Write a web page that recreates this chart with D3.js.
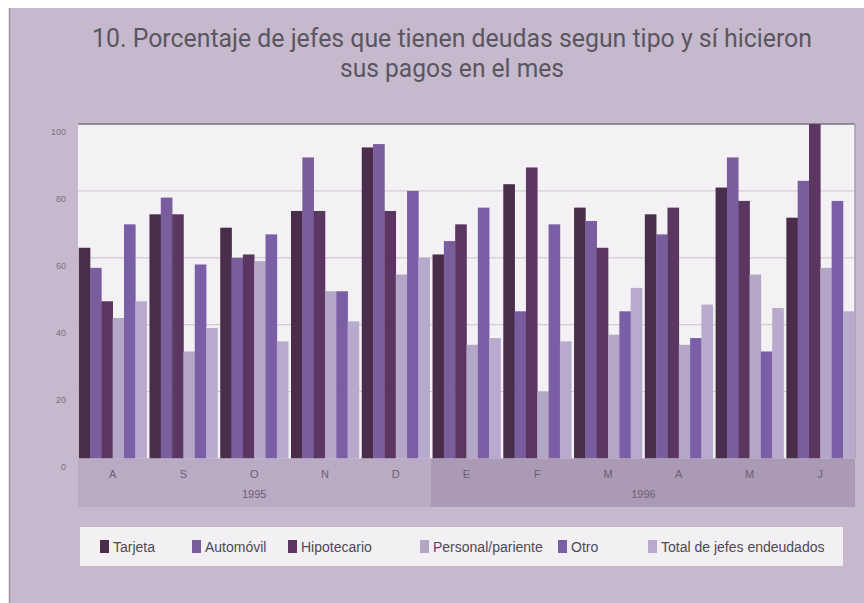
<!DOCTYPE html>
<html><head><meta charset="utf-8">
<script src="https://cdn.jsdelivr.net/npm/d3@7"></script>
<style>body{margin:0;background:#fff}svg{display:block}</style>
</head><body>
<script>
const months = ["A","S","O","N","D","E","F","M","A","M","J"];
const years = [{label:"1995", from:0, to:4},{label:"1996", from:5, to:10}];
const seriesNames = ["Tarjeta","Automóvil","Hipotecario","Personal/pariente","Otro","Total de jefes endeudados"];
const tarjeta     = [63,73,69,74,93,61,82,75,73,81,72];
const automovil   = [57,78,60,90,94,65,44,71,67,90,83];
const hipotecario = [47,73,61,74,74,70,87,63,75,77,100];
const personal    = [42,32,59,50,55,34,20,37,34,55,57];
const otro        = [70,58,67,50,80,75,70,44,36,32,77];
const total       = [47,39,35,41,60,36,35,51,46,45,44];
const yTicks = [0,20,40,60,80,100];
const colors = ["#4a2c4b","#7a5d9c","#5a3660","#b4a6c7","#7b5fa6","#b8aacd"];

const seriesValues = [tarjeta,automovil,hipotecario,personal,otro,total];
const W=864,H=603;
const svg=d3.select("body").append("svg").attr("width",W).attr("height",H);
svg.append("rect").attr("width",W).attr("height",H).attr("fill","#ffffff");
svg.append("rect").attr("x",10).attr("y",8).attr("width",W-10).attr("height",H-8).attr("fill","#c6b9cd");
svg.append("line").attr("x1",9.5).attr("x2",9.5).attr("y1",8).attr("y2",H).attr("stroke","#9a92a0").attr("stroke-width",1.5);

const tFont="'Liberation Sans Narrow','Roboto','Liberation Sans',sans-serif";
svg.append("text").attr("x",452).attr("y",47).attr("text-anchor","middle").attr("fill","#5a5660")
  .style("font-family",tFont).style("font-size","25px")
  .attr("textLength",720).attr("lengthAdjust","spacingAndGlyphs")
  .text("10. Porcentaje de jefes que tienen deudas segun tipo y sí hicieron");
svg.append("text").attr("x",452).attr("y",77).attr("text-anchor","middle").attr("fill","#5a5660")
  .style("font-family",tFont).style("font-size","25px")
  .attr("textLength",224).attr("lengthAdjust","spacingAndGlyphs")
  .text("sus pagos en el mes");

const L=78,R=855,T=124,B=458.5;
const x0=d3.scaleBand().domain(d3.range(months.length)).range([L,R]).paddingInner(0.04).paddingOuter(0.01);
const x1=d3.scaleBand().domain(d3.range(seriesNames.length)).range([0,x0.bandwidth()]);
const y=d3.scaleLinear().domain([0,100]).range([B,T]);

svg.append("rect").attr("x",L).attr("y",T).attr("width",R-L).attr("height",B-T).attr("fill","#f3f1f4");
svg.append("g").selectAll("line").data(yTicks.filter(d=>d>0&&d<100)).join("line")
  .attr("x1",L).attr("x2",R).attr("y1",d=>y(d)).attr("y2",d=>y(d)).attr("stroke","#c9c4cc").attr("stroke-width",1);
svg.append("line").attr("x1",L).attr("x2",R).attr("y1",T).attr("y2",T).attr("stroke","#7d7286").attr("stroke-width",1.5);
svg.append("line").attr("x1",R).attr("x2",R).attr("y1",T).attr("y2",B).attr("stroke","#a69cae").attr("stroke-width",1.5);

const g=svg.append("g");
months.forEach((m,i)=>{
  seriesValues.forEach((vals,s)=>{
    g.append("rect").attr("x",x0(i)+x1(s)).attr("width",x1.bandwidth()+0.3)
      .attr("y",y(vals[i])).attr("height",B-y(vals[i])).attr("fill",colors[s]);
  });
});

// y labels
svg.append("g").selectAll("text").data(yTicks).join("text")
  .attr("x",66).attr("y",d=>y(d)+8).attr("dy","0.35em").attr("text-anchor","end")
  .attr("fill","#76707c").style("font-family","'Liberation Sans Narrow','Liberation Sans',sans-serif").style("font-size","9px")
  .text(d=>d);

// band under axis
const bandTop=B, bandBot=507;
const bandColors=["#baabc4","#aa9ab5"];
years.forEach((yr,k)=>{
  const xs = k===0 ? L : x0(yr.from)-x0.step()*x0.paddingInner()/2;
  const xe = k===1 ? R : x0(yr.to)+x0.bandwidth()+x0.step()*x0.paddingInner()/2;
  svg.append("rect").attr("x",xs).attr("y",bandTop).attr("width",xe-xs).attr("height",bandBot-bandTop).attr("fill",bandColors[k]);
  svg.append("text").attr("x",(x0(yr.from)+x0(yr.to)+x0.bandwidth())/2).attr("y",498).attr("text-anchor","middle")
    .attr("fill","#6a6070").style("font-family","'Liberation Sans Narrow','Liberation Sans',sans-serif").style("font-size","11px").text(yr.label);
});
svg.append("g").selectAll("text").data(months).join("text")
  .attr("x",(d,i)=>x0(i)+x0.bandwidth()/2).attr("y",478).attr("text-anchor","middle")
  .attr("fill","#6a6070").style("font-family","'Liberation Sans','DejaVu Sans',sans-serif").style("font-size","11px").text(d=>d);

// legend
svg.append("rect").attr("x",80).attr("y",527).attr("width",763).attr("height",39).attr("fill","#f2f0f3");
const legX=[100,192,288,420,558,648];
const leg=svg.append("g");
seriesNames.forEach((n,i)=>{
  leg.append("rect").attr("x",legX[i]).attr("y",540).attr("width",9).attr("height",13).attr("fill",colors[i]);
  leg.append("text").attr("x",legX[i]+13).attr("y",552).attr("fill","#4e4854")
    .style("font-family","'Liberation Sans Narrow','Liberation Sans',sans-serif").style("font-size","14px").text(n);
});
</script>
</body></html>
